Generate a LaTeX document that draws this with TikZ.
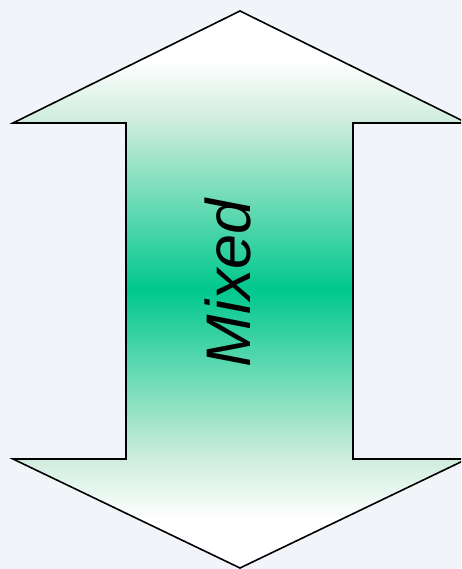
\documentclass[tikz,border=0pt]{standalone}
\usepackage{fontspec}
\newfontfamily\arrowfont{Liberation Sans}
\definecolor{Cbg}{RGB}{241,245,250}
\definecolor{Cmid}{RGB}{0,200,140}
\definecolor{Clight}{RGB}{205,236,220}
\pgfdeclareverticalshading{mixedfade}{100bp}{color(0bp)=(white); color(29.4bp)=(white); color(35bp)=(Clight); color(50bp)=(Cmid); color(65bp)=(Clight); color(70.6bp)=(white); color(100bp)=(white)}
\begin{document}
\begin{tikzpicture}[x=1pt, y=1pt,
  arrowbody/.style={
    draw=black, line width=1.6pt, line join=miter,
    shading=mixedfade
  },
  tag/.style={
    font=\arrowfont\itshape\fontsize{63}{70}\selectfont,
    rotate=90, inner sep=0pt
  }
]
%% BACKGROUND
\fill[Cbg] (0,0) rectangle (461,569);
\useasboundingbox (0,0) rectangle (461,569);
\clip (0,0) rectangle (461,569);
%% DOUBLE ARROW
\path[arrowbody] (240,558) -- (467,446) -- (353,446) -- (353,110)
  -- (467,110) -- (240,1) -- (13,110) -- (126,110) -- (126,446)
  -- (13,446) -- cycle;
%% LABEL
\node[tag] (mixed) at (228,286) {Mixed};
\end{tikzpicture}
\end{document}
